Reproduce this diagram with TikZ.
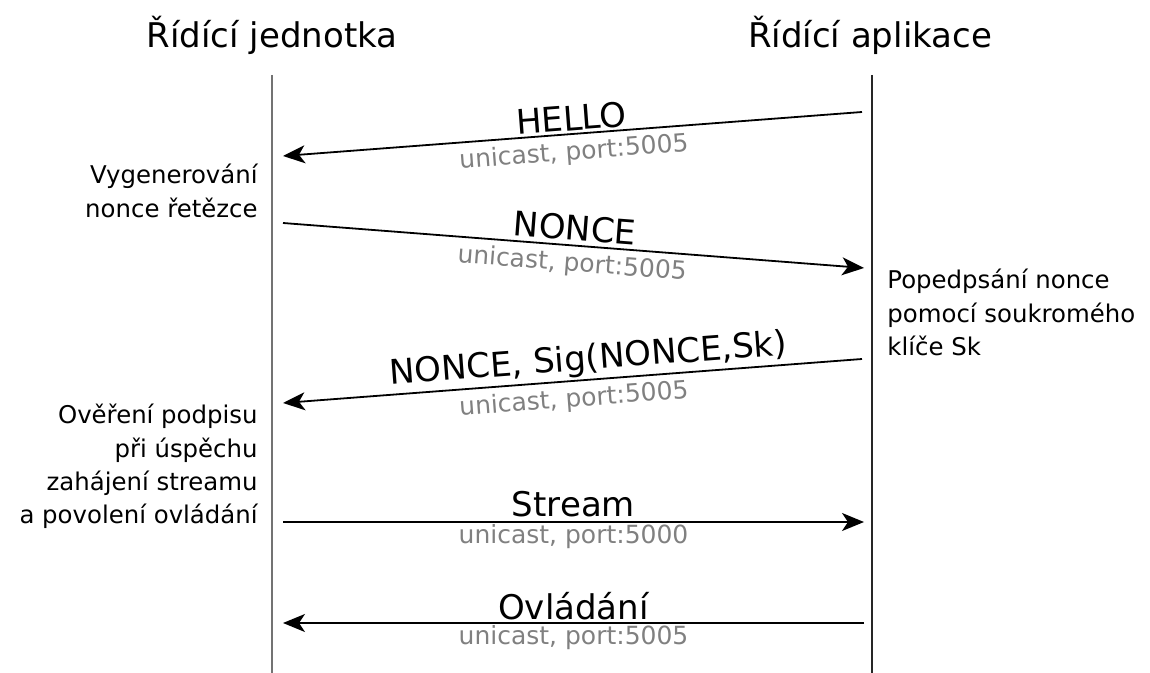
\documentclass[tikz,border=0pt]{standalone}
\usepackage{fontspec}
\setmainfont{DejaVu Sans}
\usetikzlibrary{arrows.meta}

\begin{document}
\begin{tikzpicture}[x=0.5pt, y=-0.5pt,
    head/.style={font=\fontsize{17}{20}\selectfont},
    lifeline/.style={line width=1.2pt},
    msg/.style={-{Stealth[length=11pt,width=9pt,inset=3pt]}, line width=0.9pt},
    lbl/.style={font=\fontsize{17}{20}\selectfont, inner sep=1pt},
    port/.style={font=\fontsize{12.5}{15}\selectfont, text=black!50, inner sep=1pt},
    note/.style={font=\fontsize{12.2}{16.6}\selectfont, inner sep=0pt}]
\useasboundingbox (0,0) rectangle (1150,673);

% --- Headers and lifelines ---
\node[head, anchor=base] (unit) at (272,48) {Řídící jednotka};
\node[head, anchor=base] (app) at (870,48) {Řídící aplikace};
\coordinate (ut) at (272,75);
\coordinate (ub) at (272,673);
\coordinate (at) at (872,75);
\coordinate (ab) at (872,673);
\draw[lifeline, black!55] (ut) -- (ub);
\draw[lifeline, black!85] (at) -- (ab);

% --- Message end points ---
\coordinate (a1) at (862,112);  \coordinate (u1) at (283,156);
\coordinate (u2) at (283,223);  \coordinate (a2) at (864,268);
\coordinate (a3) at (862,359);  \coordinate (u3) at (283,403);
\coordinate (u4) at (283,522);  \coordinate (a4) at (864,522);
\coordinate (a5) at (864,623);  \coordinate (u5) at (283,623);

% --- Messages ---
\draw[msg] (a1) -- (u1)
    node[lbl, midway, above, sloped] (hello) {HELLO}
    node[port, midway, below, sloped, inner sep=3pt] (p1) {unicast, port:5005};
\draw[msg] (u2) -- (a2)
    node[lbl, midway, above, sloped, inner sep=2pt] (nonce) {NONCE}
    node[port, midway, below, sloped, inner sep=3pt] (p2) {unicast, port:5005};
\draw[msg] (a3) -- (u3)
    node[lbl, pos=0.47, above, sloped] (sig) {NONCE, Sig(NONCE,Sk)}
    node[port, midway, below, sloped, inner sep=3pt] (p3) {unicast, port:5005};
\draw[msg] (u4) -- (a4)
    node[lbl, midway, above, inner sep=2pt] (stream) {Stream}
    node[port, midway, below] (p4) {unicast, port:5000};
\draw[msg] (a5) -- (u5)
    node[lbl, midway, above] (ctrl) {Ovládání}
    node[port, midway, below] (p5) {unicast, port:5005};

% --- Notes beside the lifelines ---
\node[note, anchor=north east, align=right] (gen) at (258,164)
    {Vygenerování\\nonce řetězce};
\node[note, anchor=north west, align=left] (sign) at (887,269)
    {Popedpsání nonce\\pomocí soukromého\\klíče Sk};
\node[note, anchor=north east, align=right] (check) at (258,404)
    {Ověření podpisu\\při úspěchu\\zahájení streamu\\a povolení ovládání};
\end{tikzpicture}
\end{document}
